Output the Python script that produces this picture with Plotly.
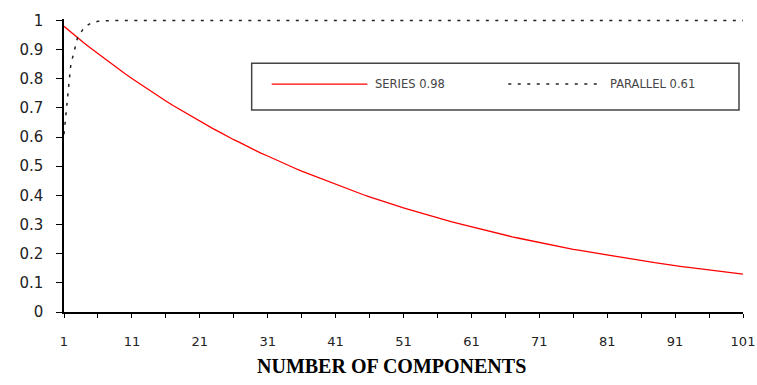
import plotly.graph_objects as go

# ---------------- data ----------------
components = list(range(1, 102))

series_098 = [
    0.980, 0.960, 0.941, 0.922, 0.904, 0.886, 0.868, 0.851, 0.834, 0.817,
    0.801, 0.785, 0.769, 0.754, 0.739, 0.724, 0.709, 0.695, 0.681, 0.668,
    0.654, 0.641, 0.628, 0.616, 0.603, 0.591, 0.580, 0.568, 0.557, 0.545,
    0.535, 0.524, 0.513, 0.503, 0.493, 0.483, 0.474, 0.464, 0.455, 0.446,
    0.437, 0.428, 0.419, 0.411, 0.403, 0.395, 0.387, 0.379, 0.372, 0.364,
    0.357, 0.350, 0.343, 0.336, 0.329, 0.323, 0.316, 0.310, 0.304, 0.298,
    0.292, 0.286, 0.280, 0.274, 0.269, 0.264, 0.258, 0.253, 0.248, 0.243,
    0.238, 0.233, 0.229, 0.224, 0.220, 0.215, 0.211, 0.207, 0.203, 0.199,
    0.195, 0.191, 0.187, 0.183, 0.180, 0.176, 0.172, 0.169, 0.166, 0.162,
    0.159, 0.156, 0.153, 0.150, 0.147, 0.144, 0.141, 0.138, 0.135, 0.133,
    0.130,
]

parallel_061 = [
    0.610, 0.848, 0.941, 0.977, 0.991, 0.997, 0.999, 1.000, 1.000, 1.000,
    1.000, 1.000, 1.000, 1.000, 1.000, 1.000, 1.000, 1.000, 1.000, 1.000,
    1.000, 1.000, 1.000, 1.000, 1.000, 1.000, 1.000, 1.000, 1.000, 1.000,
    1.000, 1.000, 1.000, 1.000, 1.000, 1.000, 1.000, 1.000, 1.000, 1.000,
    1.000, 1.000, 1.000, 1.000, 1.000, 1.000, 1.000, 1.000, 1.000, 1.000,
    1.000, 1.000, 1.000, 1.000, 1.000, 1.000, 1.000, 1.000, 1.000, 1.000,
    1.000, 1.000, 1.000, 1.000, 1.000, 1.000, 1.000, 1.000, 1.000, 1.000,
    1.000, 1.000, 1.000, 1.000, 1.000, 1.000, 1.000, 1.000, 1.000, 1.000,
    1.000, 1.000, 1.000, 1.000, 1.000, 1.000, 1.000, 1.000, 1.000, 1.000,
    1.000, 1.000, 1.000, 1.000, 1.000, 1.000, 1.000, 1.000, 1.000, 1.000,
    1.000,
]

x_tick_vals = [1, 6, 11, 16, 21, 26, 31, 36, 41, 46, 51,
               56, 61, 66, 71, 76, 81, 86, 91, 96, 101]
x_tick_text = ["1", "", "11", "", "21", "", "31", "", "41", "", "51",
               "", "61", "", "71", "", "81", "", "91", "", "101"]
y_tick_vals = [0, 0.1, 0.2, 0.3, 0.4, 0.5, 0.6, 0.7, 0.8, 0.9, 1]
y_tick_text = ["0", "0.1", "0.2", "0.3", "0.4", "0.5", "0.6", "0.7", "0.8", "0.9", "1"]

series_name = "SERIES 0.98"
parallel_name = "PARALLEL 0.61"
x_title = "NUMBER OF COMPONENTS"

# ---------------- figure ----------------
RED = "#ff0000"
DOT = "#222222"
PARALLEL_DASH = "3px,6.5px"

fig = go.Figure()
fig.add_trace(go.Scatter(
    x=components, y=series_098, mode="lines", name=series_name,
    line=dict(color=RED, width=1.3), showlegend=False,
))
fig.add_trace(go.Scatter(
    x=components, y=parallel_061, mode="lines", name=parallel_name,
    line=dict(color=DOT, width=1.5, dash=PARALLEL_DASH), showlegend=False,
))

tick_font_x = dict(family="DejaVu Sans", size=13, color="#222222")
tick_font_y = dict(family="DejaVu Sans", size=15, color="#222222")

fig.update_layout(
    width=757, height=385,
    margin=dict(l=64, r=14, t=19, b=73, pad=0, autoexpand=False),
    paper_bgcolor="white", plot_bgcolor="white",
    xaxis=dict(
        range=[1, 101], tickmode="array", tickvals=x_tick_vals, ticktext=x_tick_text,
        ticks="outside", ticklen=4, tickwidth=1.3, tickcolor="black",
        showline=True, linecolor="black", linewidth=1.5,
        showgrid=False, zeroline=False, tickfont=tick_font_x,
        ticklabelstandoff=13, automargin=False,
    ),
    xaxis2=dict(
        overlaying="x", anchor="y", side="bottom", matches="x",
        range=[1, 101], tickmode="array", tickvals=x_tick_vals,
        ticks="inside", ticklen=4, tickwidth=1.3, tickcolor="black",
        showticklabels=False, showline=False, showgrid=False, zeroline=False,
        automargin=False,
    ),
    yaxis=dict(
        range=[0, 1.005], tickmode="array", tickvals=y_tick_vals, ticktext=y_tick_text,
        ticks="outside", ticklen=6, tickwidth=1.3, tickcolor="black",
        showline=True, linecolor="black", linewidth=1.5,
        showgrid=False, zeroline=False, tickfont=tick_font_y,
        ticklabelstandoff=10, automargin=False,
    ),
    yaxis2=dict(
        overlaying="y", anchor="x", side="left", matches="y",
        range=[0, 1.005], tickmode="array", tickvals=y_tick_vals,
        ticks="inside", ticklen=6, tickwidth=1.3, tickcolor="black",
        showticklabels=False, showline=False, showgrid=False, zeroline=False,
        automargin=False,
    ),
    showlegend=False,
)

# ---------------- manual legend box ----------------
leg_y = 0.778
shapes = [
    dict(type="rect", xref="paper", yref="paper", x0=0.2764, x1=0.9941, y0=0.6894, y1=0.8488,
         line=dict(color="#444444", width=1.5), fillcolor="white", layer="above"),
    dict(type="line", xref="paper", yref="paper", x0=0.3059, x1=0.4467, y0=leg_y, y1=leg_y,
         line=dict(color=RED, width=1.3), layer="above"),
    dict(type="line", xref="paper", yref="paper", x0=0.6543, x1=0.7919, y0=leg_y, y1=leg_y,
         line=dict(color=DOT, width=1.5, dash=PARALLEL_DASH), layer="above"),
]
leg_font = dict(family="DejaVu Sans", size=11.5, color="#444444")
annotations = [
    dict(text=series_name, xref="paper", yref="paper", x=0.4546, y=leg_y,
         xanchor="left", yanchor="middle", showarrow=False, font=leg_font),
    dict(text=parallel_name, xref="paper", yref="paper", x=0.8016, y=leg_y,
         xanchor="left", yanchor="middle", showarrow=False, font=leg_font),
    dict(text=x_title, xref="paper", yref="paper", x=0.4816, y=-0.184,
         xanchor="center", yanchor="middle", showarrow=False,
         font=dict(family="Liberation Serif", size=20, color="black", weight="bold")),
]
fig.update_layout(shapes=shapes, annotations=annotations)

# remove the browser's default 8px body margin so the 757x385 figure fills the window
fig.write_html(
    "out.html",
    config={"displayModeBar": False},
    post_script="document.body.style.margin='0';document.body.style.overflow='hidden';",
)
